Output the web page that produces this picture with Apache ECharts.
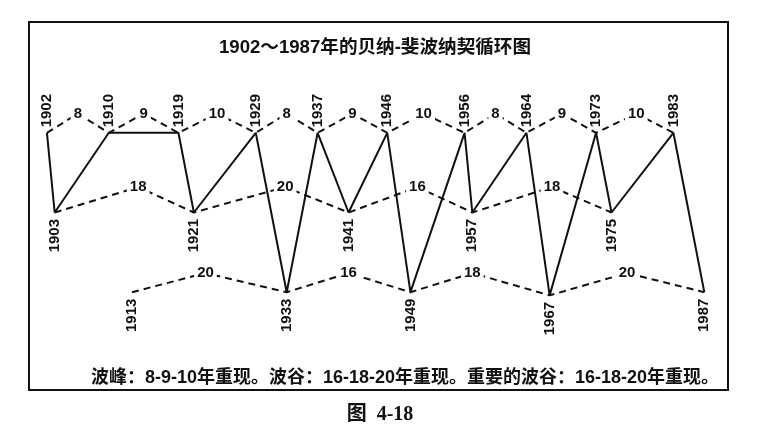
<!DOCTYPE html>
<html>
<head>
<meta charset="utf-8">
<title>贝纳-斐波纳契循环图</title>
<script src="https://cdn.jsdelivr.net/npm/echarts@6/dist/echarts.min.js"></script>
<style>
  body { margin: 0; padding: 0; background: #fff; }
  #main { width: 780px; height: 442px; }
</style>
</head>
<body>
<div id="main"></div>
<script>
// 实线：年份与所处位置（100 = 波峰，50 = 波谷，0 = 重要波谷）
const solidYears = [1902, 1903, 1910, 1919, 1921, 1929, 1933, 1937, 1941, 1946, 1949, 1956, 1957, 1964, 1967, 1973, 1975, 1983, 1987];
const solidLevels = [100, 50, 100, 100, 50, 100, 0, 100, 50, 100, 0, 100, 50, 100, -2, 100, 50, 100, 0];

// 波峰 8-9-10
const peakYears = [1902, 1910, 1919, 1929, 1937, 1946, 1956, 1964, 1973, 1983];
const peakGaps = [8, 9, 10, 8, 9, 10, 8, 9, 10];
const peakApexYears = [1906, 1914.5, 1924, 1933, 1941.5, 1950.7, 1960, 1968.6, 1978.2];

// 波谷 16-18-20
const troughYears = [1903, 1921, 1941, 1957, 1975];
const troughGaps = [18, 20, 16, 18];
const troughApexYears = [1913.8, 1932.8, 1949.9, 1967.3];

// 重要的波谷 16-18-20
const majorYears = [1913, 1933, 1949, 1967, 1987];
const majorLevels = [0, 0, 0, -2, 0];
const majorGaps = [20, 16, 18, 20];
const majorApexYears = [1922.5, 1941, 1957, 1977];

const peakLevel = 100, troughLevel = 50;
const peakApex = 112, troughApex = 66, majorApex = 12;

const FONT = '"Liberation Sans", Arial, "Noto Sans CJK SC", sans-serif';

// 虚线折线：点 - 顶点 - 点 ...
function zigzag(years, levels, apexYears, apexLevel) {
  const out = [];
  years.forEach((y, i) => {
    out.push([y, levels[i]]);
    if (i < apexYears.length) out.push([apexYears[i], apexLevel]);
  });
  return out;
}

function dashed(data) {
  return {
    type: 'line',
    data: data,
    symbol: 'none',
    clip: false,
    silent: true,
    z: 2,
    lineStyle: { color: '#111', width: 2, type: [7, 5] }
  };
}

function gapLabels(apexYears, apexLevel, gaps) {
  return {
    type: 'scatter',
    symbolSize: 1,
    silent: true,
    itemStyle: { color: 'rgba(0,0,0,0)', opacity: 1 },
    z: 5,
    data: apexYears.map((y, i) => ({ value: [y, apexLevel], name: String(gaps[i]) })),
    label: {
      show: true,
      position: 'inside',
      formatter: p => p.name,
      color: '#111',
      opacity: 1,
      fontFamily: FONT,
      fontWeight: 'bold',
      fontSize: 15,
      backgroundColor: '#fff',
      padding: [0, 3]
    }
  };
}

function yearLabels(years, levels, up) {
  return {
    type: 'scatter',
    symbolSize: 1,
    silent: true,
    itemStyle: { color: 'rgba(0,0,0,0)', opacity: 1 },
    z: 5,
    data: years.map((y, i) => [y, Array.isArray(levels) ? levels[i] : levels]),
    label: {
      show: true,
      position: up ? 'top' : 'bottom',
      distance: up ? 5 : 6,
      rotate: 90,
      align: up ? 'left' : 'right',
      verticalAlign: 'middle',
      formatter: p => String(p.value[0]),
      color: '#111',
      opacity: 1,
      fontFamily: FONT,
      fontWeight: 'bold',
      fontSize: 15
    }
  };
}

const chart = echarts.init(document.getElementById('main'));
chart.setOption({
  backgroundColor: '#fff',
  animation: false,
  grid: { left: 16, right: 37, top: 85, bottom: 102 },
  xAxis: { type: 'value', min: 1898, max: 1992, show: false },
  yAxis: { type: 'value', min: -30, max: 130, show: false },
  graphic: [
    {
      type: 'rect',
      shape: { x: 29, y: 22, width: 699, height: 368 },
      style: { fill: null, stroke: '#111', lineWidth: 2 },
      z: 0
    },
    {
      type: 'text', x: 375, y: 48,
      style: {
        text: '1902～1987年的贝纳-斐波纳契循环图',
        font: 'bold 18.6px ' + FONT, fill: '#111',
        textAlign: 'center', textVerticalAlign: 'middle'
      }
    },
    {
      type: 'text', x: 405, y: 378,
      style: {
        text: '波峰：8-9-10年重现。波谷：16-18-20年重现。重要的波谷：16-18-20年重现。',
        font: 'bold 18px ' + FONT, fill: '#111',
        textAlign: 'center', textVerticalAlign: 'middle'
      }
    },
    {
      type: 'text', x: 380, y: 415,
      style: {
        text: '图  4-18',
        font: 'bold 20px "Liberation Serif", "Noto Sans CJK SC", serif', fill: '#111',
        textAlign: 'center', textVerticalAlign: 'middle'
      }
    }
  ],
  series: [
    {
      type: 'line',
      data: solidYears.map((y, i) => [y, solidLevels[i]]),
      symbol: 'none',
      clip: false,
      silent: true,
      z: 3,
      lineStyle: { color: '#111', width: 2 }
    },
    dashed(zigzag(peakYears, peakYears.map(() => peakLevel), peakApexYears, peakApex)),
    dashed(zigzag(troughYears, troughYears.map(() => troughLevel), troughApexYears, troughApex)),
    dashed(zigzag(majorYears, majorLevels, majorApexYears, majorApex)),
    gapLabels(peakApexYears, peakApex, peakGaps),
    gapLabels(troughApexYears, troughApex, troughGaps),
    gapLabels(majorApexYears, majorApex, majorGaps),
    yearLabels(peakYears, peakLevel, true),
    yearLabels(troughYears, troughLevel, false),
    yearLabels(majorYears, majorLevels, false)
  ]
});
</script>
</body>
</html>
